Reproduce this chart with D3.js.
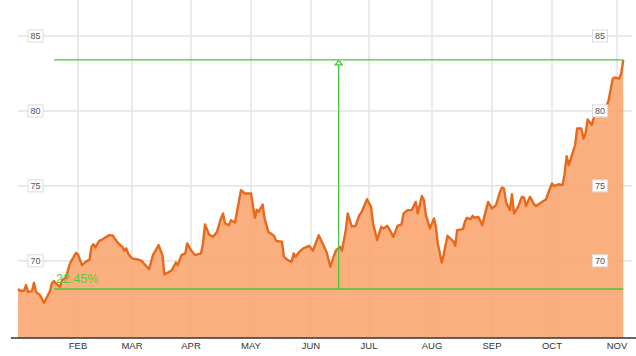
<!DOCTYPE html>
<html><head><meta charset="utf-8">
<script src="https://cdn.jsdelivr.net/npm/d3@7"></script>
<style>body{margin:0;background:#fff}svg{display:block}text{font-family:"Liberation Sans",Arial,sans-serif}</style>
</head><body><svg id="c" width="636" height="356"></svg>
<script>
const dates = ["2017-01-02","2017-01-03","2017-01-05","2017-01-06","2017-01-07","2017-01-09","2017-01-10","2017-01-11","2017-01-13","2017-01-15","2017-01-16","2017-01-18","2017-01-19","2017-01-20","2017-01-21","2017-01-23","2017-01-24","2017-01-26","2017-01-28","2017-01-31",
"2017-02-01","2017-02-03","2017-02-05","2017-02-07","2017-02-08","2017-02-09","2017-02-10","2017-02-12","2017-02-14","2017-02-17","2017-02-19","2017-02-20","2017-02-22","2017-02-24","2017-02-25","2017-02-26","2017-02-27",
"2017-03-01","2017-03-04","2017-03-06","2017-03-08","2017-03-10","2017-03-12","2017-03-13","2017-03-15","2017-03-17","2017-03-18","2017-03-20","2017-03-22","2017-03-24","2017-03-25","2017-03-27","2017-03-29","2017-03-30",
"2017-04-01","2017-04-03","2017-04-06","2017-04-07","2017-04-08","2017-04-10","2017-04-12","2017-04-14","2017-04-16","2017-04-17","2017-04-18","2017-04-20","2017-04-21","2017-04-23","2017-04-24","2017-04-26","2017-04-28",
"2017-05-01","2017-05-03","2017-05-04","2017-05-05","2017-05-07","2017-05-08","2017-05-10","2017-05-12","2017-05-13","2017-05-14","2017-05-17","2017-05-18","2017-05-20","2017-05-22","2017-05-23","2017-05-24","2017-05-26","2017-05-28","2017-05-31",
"2017-06-02","2017-06-05","2017-06-07","2017-06-09","2017-06-11","2017-06-13","2017-06-14","2017-06-16","2017-06-17","2017-06-19","2017-06-20","2017-06-22","2017-06-24","2017-06-26","2017-06-27","2017-06-30",
"2017-07-02","2017-07-03","2017-07-05","2017-07-07","2017-07-08","2017-07-10","2017-07-11","2017-07-13","2017-07-15","2017-07-17","2017-07-18","2017-07-20","2017-07-22","2017-07-24","2017-07-25","2017-07-27","2017-07-28","2017-07-29","2017-07-31",
"2017-08-02","2017-08-03","2017-08-04","2017-08-06","2017-08-07","2017-08-09","2017-08-10","2017-08-12","2017-08-13","2017-08-14","2017-08-17","2017-08-18","2017-08-19","2017-08-21","2017-08-22","2017-08-23","2017-08-25","2017-08-27","2017-08-28","2017-08-30",
"2017-09-01","2017-09-03","2017-09-05","2017-09-06","2017-09-07","2017-09-08","2017-09-10","2017-09-11","2017-09-12","2017-09-14","2017-09-16","2017-09-17","2017-09-18","2017-09-20","2017-09-22","2017-09-23","2017-09-26","2017-09-28","2017-09-29",
"2017-10-01","2017-10-02","2017-10-04","2017-10-06","2017-10-07","2017-10-08","2017-10-09","2017-10-10","2017-10-12","2017-10-13","2017-10-15","2017-10-16","2017-10-17","2017-10-18","2017-10-20","2017-10-21","2017-10-22","2017-10-25","2017-10-27","2017-10-28","2017-10-30","2017-10-31",
"2017-11-02","2017-11-03","2017-11-04"];
const prices = [68.12,68.00,68.00,68.38,67.93,67.98,68.53,67.93,67.71,67.20,67.45,67.98,68.53,68.65,68.49,68.27,68.71,68.89,69.83,70.53,
70.43,69.71,69.93,70.09,70.93,71.11,70.89,71.33,71.45,71.71,71.69,71.49,71.16,70.93,70.67,70.83,70.49,
70.16,70.09,70.00,69.71,69.45,70.38,70.60,71.05,70.38,69.09,69.23,69.38,69.89,69.71,70.38,70.49,71.16,
70.71,70.38,70.49,71.16,72.43,71.76,71.60,71.93,72.83,73.16,72.49,72.38,72.71,72.56,73.27,74.71,74.49,
74.49,72.87,73.40,73.27,73.76,72.83,71.93,71.76,71.65,71.33,71.27,70.27,70.05,69.93,70.49,70.27,70.60,70.83,71.00,
70.67,71.71,71.16,70.60,69.60,70.38,70.71,70.93,70.67,72.05,73.16,72.31,72.31,73.05,73.20,74.11,
73.60,72.49,71.38,72.27,72.16,72.33,72.11,71.60,72.33,72.43,73.16,73.38,73.38,73.93,73.16,74.33,74.05,73.05,72.16,
72.83,72.27,71.16,69.89,70.38,71.67,71.53,71.31,71.00,72.05,72.11,72.60,72.87,72.78,73.00,72.87,72.93,72.38,72.93,73.93,
73.49,73.71,74.60,74.89,74.82,73.93,73.38,74.45,73.16,73.60,74.27,74.22,73.65,74.27,73.78,73.65,73.93,74.09,74.49,
75.16,74.98,75.11,75.05,75.78,76.98,76.38,76.83,77.71,78.83,78.83,78.16,78.49,79.43,79.05,79.60,79.71,79.83,80.31,80.71,82.16,82.23,
82.16,82.49,83.41];
const monthLabels = ["FEB","MAR","APR","MAY","JUN","JUL","AUG","SEP","OCT","NOV"];
const monthStarts = ["2017-02-01","2017-03-01","2017-04-01","2017-05-01","2017-06-01","2017-07-01","2017-08-01","2017-09-01","2017-10-01","2017-11-01"];
const yTicks = [70,75,80,85];
const annotationStart = "2017-01-20";

const parse = d3.timeParse("%Y-%m-%d");
const data = dates.map((d,i)=>({date:parse(d), v:prices[i]}));
const svg = d3.select("#c");

// layout
const anchorDates = ["2017-01-01"].concat(monthStarts).map(parse);
const anchorX = [16,78,132,191,251,311,369,432,492,552,617];
const x = d3.scaleTime().domain(anchorDates).range(anchorX);
const y = d3.scaleLinear().domain([64.85, 87.4]).range([338, 0]);
const axisY = 338;

// grid
const g = svg.append("g");
g.selectAll("line.h").data(yTicks).join("line")
  .attr("x1",18).attr("x2",632).attr("y1",d=>y(d)).attr("y2",d=>y(d))
  .attr("stroke","#e3e3e3").attr("stroke-width",1.5);
g.selectAll("line.v").data(monthStarts.map(parse)).join("line")
  .attr("x1",d=>x(d)).attr("x2",d=>x(d)).attr("y1",0).attr("y2",axisY)
  .attr("stroke","#e3e3e3").attr("stroke-width",1.5);

// area + line
const area = d3.area().x(d=>x(d.date)).y0(axisY).y1(d=>y(d.v));
svg.append("path").datum(data).attr("d",area).attr("fill","#fca46c").attr("fill-opacity",0.88);
const line = d3.line().x(d=>x(d.date)).y(d=>y(d.v));
svg.append("path").datum(data).attr("d",line).attr("fill","none")
  .attr("stroke","#e8691c").attr("stroke-width",2.4).attr("stroke-linejoin","round");

// x axis
svg.append("line").attr("x1",11).attr("x2",636).attr("y1",axisY).attr("y2",axisY)
  .attr("stroke","#333").attr("stroke-width",1.5);
svg.selectAll("text.m").data(monthLabels).join("text")
  .attr("x",(d,i)=>x(parse(monthStarts[i]))).attr("y",349)
  .attr("text-anchor","middle").attr("font-size",9.5).attr("fill","#333").text(d=>d);

// y labels (both sides)
[35.5, 600].forEach(cx=>{
  const lg = svg.append("g");
  lg.selectAll("rect").data(yTicks).join("rect")
    .attr("x",cx-7.5).attr("y",d=>y(d)-6).attr("width",15).attr("height",12)
    .attr("fill","#fff").attr("stroke","#dcdcdc").attr("stroke-width",1);
  lg.selectAll("text").data(yTicks).join("text")
    .attr("x",cx).attr("y",d=>y(d)+3.3).attr("text-anchor","middle")
    .attr("font-size",9).attr("fill","#555").text(d=>d);
});

// annotation
const first = data[0], last = data[data.length-1];
const ax0 = x(parse(annotationStart)), ax1 = x(last.date);
const amid = (ax0+ax1)/2;
const green = "#44c93a";
svg.append("line").attr("x1",ax0).attr("x2",ax1).attr("y1",y(first.v)).attr("y2",y(first.v))
  .attr("stroke",green).attr("stroke-width",1.3);
svg.append("line").attr("x1",ax0).attr("x2",ax1).attr("y1",y(last.v)).attr("y2",y(last.v))
  .attr("stroke",green).attr("stroke-width",1.3);
svg.append("line").attr("x1",amid).attr("x2",amid).attr("y1",y(first.v)).attr("y2",y(last.v)+5)
  .attr("stroke",green).attr("stroke-width",1.3);
const ty = y(last.v);
svg.append("path").attr("d",`M${amid},${ty+0.5}L${amid-3.5},${ty+5}L${amid+3.5},${ty+5}Z`)
  .attr("fill","#fff").attr("stroke",green).attr("stroke-width",1.3);
const pct = ((last.v/first.v-1)*100).toFixed(2)+"%";
svg.append("text").attr("x",ax0+2).attr("y",y(first.v)-5.5)
  .attr("font-size",12.5).attr("fill","#55cc33").text(pct);
</script></body></html>
